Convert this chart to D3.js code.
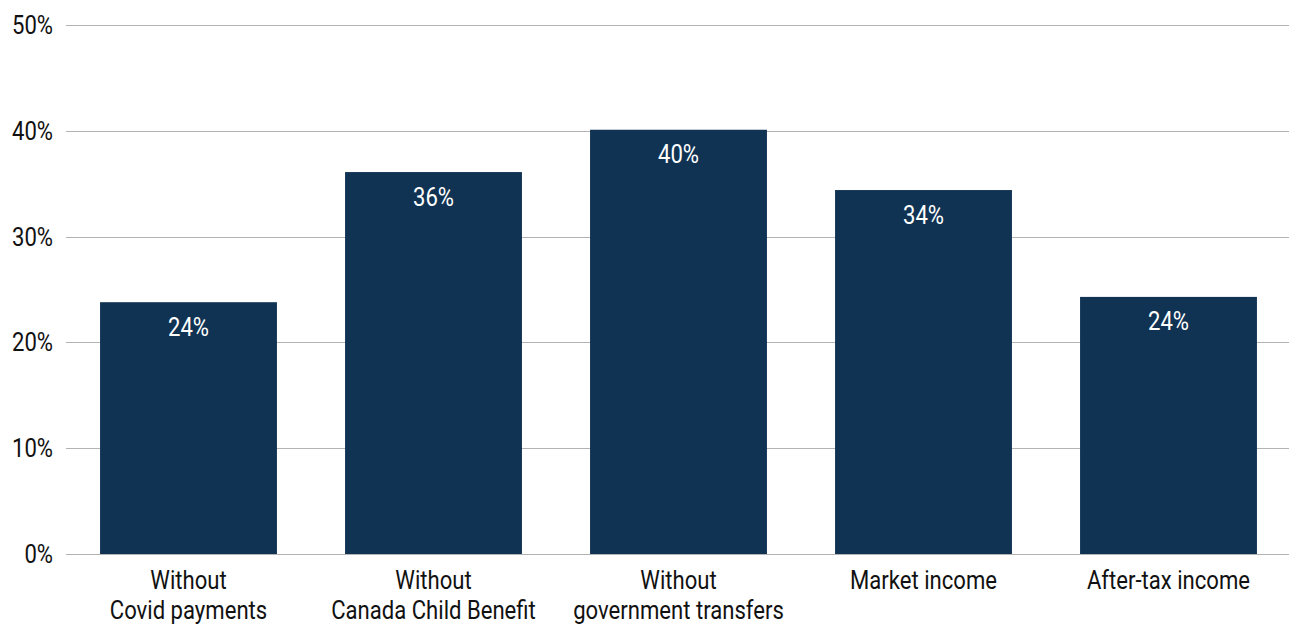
<!DOCTYPE html>
<html>
<head>
<meta charset="utf-8">
<script src="https://cdn.jsdelivr.net/npm/d3@7"></script>
<style>
  html, body { margin: 0; padding: 0; background: #fff; }
  svg text { font-family: "Roboto", "Liberation Sans", sans-serif; }
</style>
</head>
<body>
<svg id="chart" width="1289" height="625"></svg>
<script>
// Share of children below the poverty line under different income measures
const categories = [
  ["Without", "Covid payments"],
  ["Without", "Canada Child Benefit"],
  ["Without", "government transfers"],
  ["Market income"],
  ["After-tax income"]
];
const values = [0.238, 0.361, 0.401, 0.344, 0.243];
const yTicks = [0, 0.1, 0.2, 0.3, 0.4, 0.5];

const W = 1289, H = 625;
const margin = { top: 25, right: -2, bottom: 71, left: 66 };
const FONT = 26;       // text size
const SQUEEZE = 0.85;  // horizontal condensing of all text
const svg = d3.select("#chart");

const x = d3.scaleBand()
  .domain(d3.range(categories.length))
  .range([margin.left, W - margin.right])
  .paddingInner(0.278)
  .paddingOuter(0.139);

const y = d3.scaleLinear()
  .domain([0, 0.5])
  .range([H - margin.bottom, margin.top]);

const pct = d3.format(".0%");

// horizontal gridlines
svg.append("g").selectAll("line")
  .data(yTicks)
  .join("line")
  .attr("x1", margin.left)
  .attr("x2", W)
  .attr("y1", d => Math.round(y(d)) + 0.5)
  .attr("y2", d => Math.round(y(d)) + 0.5)
  .attr("stroke", "#b3b3b3");

// tick labels
svg.append("g").selectAll("text")
  .data(yTicks)
  .join("text")
  .attr("transform", d => `translate(53,${y(d) + 9}) scale(${SQUEEZE},1)`)
  .attr("text-anchor", "end")
  .attr("fill", "#111")
  .attr("font-size", FONT)
  .text(d => pct(d));

// bars
svg.append("g").selectAll("rect")
  .data(values)
  .join("rect")
  .attr("x", (d, i) => x(i))
  .attr("y", d => y(d))
  .attr("width", x.bandwidth())
  .attr("height", d => y(0) - y(d))
  .attr("fill", "#103353");

// value labels inside bars
svg.append("g").selectAll("text")
  .data(values)
  .join("text")
  .attr("transform", (d, i) => `translate(${x(i) + x.bandwidth() / 2},${y(d) + 33.5}) scale(${SQUEEZE},1)`)
  .attr("text-anchor", "middle")
  .attr("fill", "#fff")
  .attr("font-size", FONT)
  .text(d => pct(d));

// category labels, one text per line
const labelLines = categories.flatMap((lines, i) =>
  lines.map((t, j) => ({ i, j, t })));
svg.append("g").selectAll("text")
  .data(labelLines)
  .join("text")
  .attr("transform", d => `translate(${x(d.i) + x.bandwidth() / 2},${589 + d.j * 30}) scale(${SQUEEZE},1)`)
  .attr("text-anchor", "middle")
  .attr("fill", "#111")
  .attr("font-size", FONT)
  .text(d => d.t);
</script>
</body>
</html>
